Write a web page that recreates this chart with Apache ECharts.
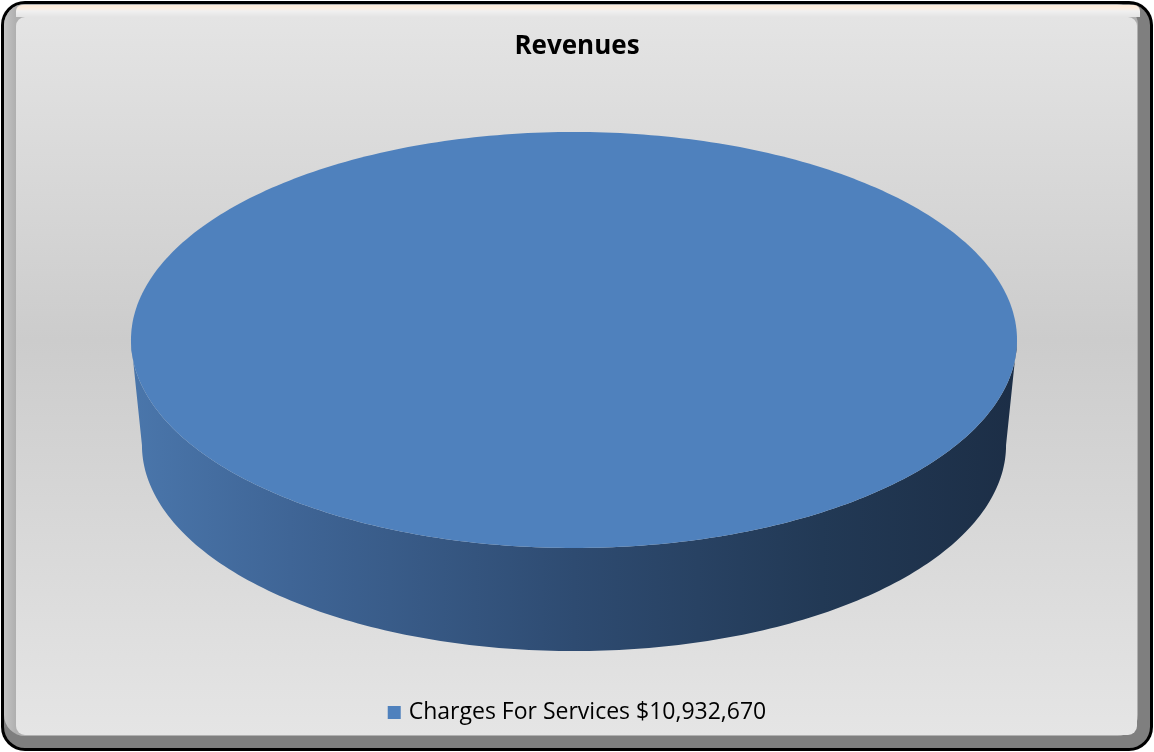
<!DOCTYPE html>
<html>
<head>
<meta charset="utf-8">
<title>Revenues</title>
<script src="https://cdn.jsdelivr.net/npm/echarts@6/dist/echarts.min.js"></script>
<style>
  html, body { margin: 0; padding: 0; background: #ffffff; }
  #chart { width: 1154px; height: 752px; }
</style>
</head>
<body>
<div id="chart"></div>
<script>
// Chart data
const titleText = 'Revenues';
const categories = ['Charges For Services'];
const values = [10932670];
const sliceColors = ['#4F81BD'];

// Disc geometry (fractions of the canvas): top face and bottom rim ellipses
const disc = {
  cx: 0.4974,
  topCy: 0.4521, topRx: 0.3839, topRy: 0.2766,
  botCy: 0.5918, botRx: 0.3744, botRy: 0.2739
};

const total = values.reduce((s, v) => s + v, 0);
const money = v => '$' + v.toLocaleString('en-US');
const labels = categories.map((c, i) => c + ' ' + money(values[i]));

// cumulative start/end fractions of each slice
let acc = 0;
const sliceSpans = values.map(v => {
  const s = acc / total;
  acc += v;
  return [s, acc / total];
});

function ellipsePoints(cx, cy, rx, ry, t0, t1, n) {
  const pts = [];
  for (let k = 0; k <= n; k++) {
    const t = t0 + (t1 - t0) * k / n;
    pts.push([cx + rx * Math.cos(t), cy + ry * Math.sin(t)]);
  }
  return pts;
}

function makeRenderer(color) {
  return function (params, api) {
    const W = api.getWidth(), H = api.getHeight();
    const cx = disc.cx * W;
    const tcy = disc.topCy * H, trx = disc.topRx * W, try_ = disc.topRy * H;
    const bcy = disc.botCy * H, brx = disc.botRx * W, bry = disc.botRy * H;
    // slices start at 12 o'clock and run clockwise
    const t0 = -Math.PI / 2 + 2 * Math.PI * api.value(0);
    const t1 = -Math.PI / 2 + 2 * Math.PI * api.value(1);
    const full = (t1 - t0) > 2 * Math.PI - 1e-6;
    const children = [];

    // front wall: the part of the slice facing the viewer, lit from the left
    const lo = Math.max(t0, 0), hi = Math.min(t1, Math.PI);
    if (hi > lo) {
      const topArc = ellipsePoints(cx, tcy, trx, try_, lo, hi, 180);
      const botArc = ellipsePoints(cx, bcy, brx, bry, hi, lo, 180);
      children.push({
        type: 'polygon',
        shape: { points: topArc.concat(botArc) },
        style: {
          fill: {
            type: 'linear', x: 0, y: 0, x2: 1, y2: 0,
            colorStops: [
              { offset: 0, color: '#4a76ab' },
              { offset: 0.18, color: '#3f6596' },
              { offset: 0.5, color: '#2e4b71' },
              { offset: 0.78, color: '#223955' },
              { offset: 1, color: '#1c2e46' }
            ]
          }
        }
      });
    }

    // top face
    let facePts = ellipsePoints(cx, tcy, trx, try_, t0, t1, 360);
    if (!full) facePts = [[cx, tcy]].concat(facePts);
    children.push({
      type: 'polygon',
      shape: { points: facePts },
      style: { fill: color }
    });

    return { type: 'group', children: children };
  };
}

const series = categories.map((c, i) => ({
  type: 'custom',
  name: labels[i],
  coordinateSystem: 'none',
  itemStyle: { color: sliceColors[i] },
  renderItem: makeRenderer(sliceColors[i]),
  data: [sliceSpans[i]],
  silent: true,
  animation: false
}));

const chart = echarts.init(document.getElementById('chart'), null, { renderer: 'canvas' });

chart.setOption({
  animation: false,
  backgroundColor: '#ffffff',
  title: {
    text: titleText,
    left: 'center',
    top: 29,
    textStyle: {
      fontFamily: 'Open Sans',
      fontWeight: 'bold',
      fontSize: 26,
      color: '#000000'
    }
  },
  legend: {
    data: labels,
    bottom: 23,
    left: 'center',
    icon: 'rect',
    itemWidth: 13,
    itemHeight: 13,
    textStyle: {
      fontFamily: 'Open Sans',
      fontSize: 23,
      color: '#000000',
      padding: [0, 0, 0, 3]
    }
  },
  graphic: {
    elements: [
      {
        // outer dark frame
        type: 'rect', z: -10, silent: true,
        shape: { x: 1, y: 1, width: 1152, height: 750, r: 24 },
        style: { fill: '#000000' }
      },
      {
        // shaded bevel (right / bottom)
        type: 'rect', z: -9, silent: true,
        shape: { x: 4, y: 4, width: 1146, height: 744, r: 21 },
        style: { fill: '#7f7f7f' }
      },
      {
        // lighter bevel (left / top)
        type: 'rect', z: -8, silent: true,
        shape: { x: 4, y: 4, width: 1134, height: 732, r: 21 },
        style: {
          fill: {
            type: 'linear', x: 0, y: 0, x2: 1, y2: 0,
            colorStops: [
              { offset: 0, color: '#c4c4c4' },
              { offset: 0.01, color: '#b0b0b0' },
              { offset: 1, color: '#b0b0b0' }
            ]
          }
        }
      },
      {
        // warm highlight along the top edge
        type: 'rect', z: -7, silent: true,
        shape: { x: 16, y: 5, width: 1124, height: 12, r: [6, 6, 0, 0] },
        style: {
          fill: {
            type: 'linear', x: 0, y: 0, x2: 0, y2: 1,
            colorStops: [
              { offset: 0, color: '#fde9d6' },
              { offset: 0.3, color: '#fbeee2' },
              { offset: 0.5, color: '#f0f0f0' },
              { offset: 1, color: '#e4e4e4' }
            ]
          }
        }
      },
      {
        // chart panel
        type: 'rect', z: -6, silent: true,
        shape: { x: 16, y: 17, width: 1121, height: 718, r: 9 },
        style: {
          fill: {
            type: 'linear', x: 0, y: 0, x2: 0, y2: 1,
            colorStops: [
              { offset: 0, color: '#e4e4e4' },
              { offset: 0.45, color: '#cccccc' },
              { offset: 1, color: '#e5e5e5' }
            ]
          }
        }
      }
    ]
  },
  series: series
});
</script>
</body>
</html>
